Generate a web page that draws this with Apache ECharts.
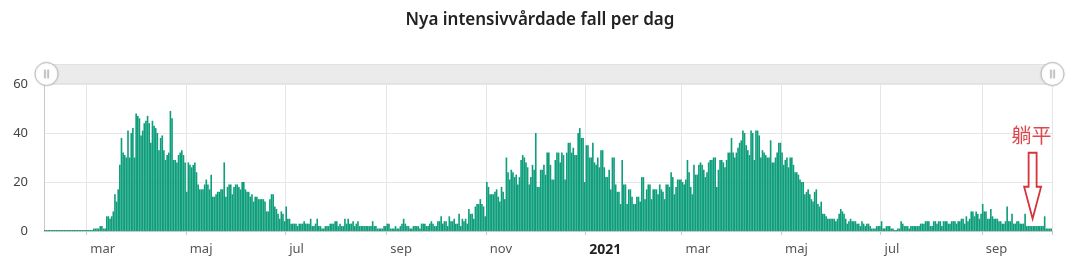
<!DOCTYPE html>
<html>
<head>
<meta charset="utf-8">
<script src="https://cdn.jsdelivr.net/npm/echarts@6/dist/echarts.min.js"></script>
<style>
html,body{margin:0;padding:0;background:#fff;}
#chart{width:1080px;height:269px;}
</style>
</head>
<body>
<div id="chart"></div>
<script>
// Daily new ICU cases, one array per month (first array starts 2020-02-04)
const startDate = '2020-02-04';
const feb20 = [0,0,0,0,0,0,0,0,0,0,0,0,0,0,0,0,0,0,0,0,0,0,0,0,0,0];
const mar20 = [0,0,0,0,1,1,1,1,2,2,1,1,6,6,5,6,8,15,12,17,27,38,32,31,30,41,30,40,42,30,48];
const apr20 = [47,46,39,41,44,45,47,44,36,45,43,42,40,33,38,39,33,29,31,32,49,46,29,29,28,31,32,33,31,28];
const may20 = [16,28,27,26,27,28,24,19,17,17,17,19,21,19,17,23,14,14,15,16,16,17,17,28,14,18,19,19,15,18,19];
const jun20 = [19,18,17,20,20,17,16,16,14,15,12,14,14,13,13,13,13,12,8,8,13,15,15,10,9,7,5,8,7,4];
const jul20 = [10,5,5,3,3,3,3,2,3,3,3,4,3,3,3,5,2,2,3,5,2,2,1,1,2,2,2,3,3,3,4];
const aug20 = [4,2,3,2,2,5,3,5,3,3,4,2,3,4,2,2,2,2,2,2,2,2,4,2,2,1,1,1,1,2,2];
const sep20 = [3,3,1,1,1,2,1,1,2,3,5,3,2,2,1,1,2,2,2,2,1,3,3,3,2,2,3,4,3,2];
const oct20 = [2,4,4,6,3,4,4,2,6,4,4,5,3,3,7,2,5,4,5,3,9,7,7,5,10,11,11,13,11,10,6];
const nov20 = [20,18,15,15,15,16,17,14,12,18,16,13,30,24,21,25,24,22,23,19,22,29,31,30,28,26,19,22,27,25];
const dec20 = [40,18,18,25,25,27,23,32,32,27,21,21,29,32,32,28,32,31,21,32,36,36,32,34,31,31,40,42,38,38,20];
const jan21 = [35,35,30,30,36,28,27,30,26,33,33,26,22,22,25,17,30,30,19,16,16,11,29,19,19,11,17,17,14,11,11];
const feb21 = [14,14,12,22,22,13,17,19,19,13,17,17,17,15,19,17,16,13,19,19,18,24,22,15,18,21,21,21];
const mar21 = [20,19,21,29,24,18,15,27,23,23,27,28,27,25,22,24,28,29,29,30,30,18,25,29,29,28,26,29,32,32,38];
const apr21 = [32,30,32,34,36,37,41,40,35,33,31,41,40,29,41,41,39,30,33,32,31,30,30,37,28,28,30,32,36,36];
const may21 = [32,27,29,30,26,30,30,27,24,24,23,21,20,20,15,16,17,15,13,12,16,17,11,10,12,7,7,6,5,5,5];
const jun21 = [5,5,4,5,7,9,8,7,5,3,4,5,4,4,4,3,3,2,4,3,2,3,3,2,1,1,1,2,2,2];
const jul21 = [4,1,1,2,2,2,1,1,0,0,1,1,4,3,2,2,2,1,2,2,2,2,2,2,3,3,3,4,4,4,2];
const aug21 = [2,4,4,3,4,4,2,4,4,4,3,3,4,4,4,3,4,4,5,5,3,6,4,5,8,8,6,8,7,5,7];
const sep21 = [11,8,8,5,5,9,6,5,5,5,4,4,3,3,4,10,4,4,7,3,3,4,4,3,3,3,7,2,2,2];
const oct21 = [2,2,2,2,2,2,2,2,6,1,1,1,1];

const monthNames = ['jan','feb','mar','apr','maj','jun','jul','aug','sep','okt','nov','dec'];
const yTicks = [0, 20, 40, 60];
const annotationText = '躺平';
const annotationDate = '2021-10-01';
const annotationValue = 5;

const values = [].concat(feb20, mar20, apr20, may20, jun20, jul20, aug20, sep20, oct20, nov20, dec20,
  jan21, feb21, mar21, apr21, may21, jun21, jul21, aug21, sep21, oct21);

// build date categories
const categories = [];
{
  const d = new Date(startDate + 'T00:00:00Z');
  for (let i = 0; i < values.length; i++) {
    const y = d.getUTCFullYear(), m = d.getUTCMonth() + 1, day = d.getUTCDate();
    categories.push(y + '-' + String(m).padStart(2, '0') + '-' + String(day).padStart(2, '0'));
    d.setUTCDate(d.getUTCDate() + 1);
  }
}
function isMarker(val) {
  const p = val.split('-');
  return p[2] === '01' && (parseInt(p[1], 10) % 2 === 1);
}

const chart = echarts.init(document.getElementById('chart'), null, {renderer: 'canvas'});
const handlePath = 'path://M50,0A50,50,0,1,1,49.9,0Z M42,32L42,68L44,68L44,32Z M56,32L56,68L58,68L58,32Z';

chart.setOption({
  animation: false,
  title: {
    text: 'Nya intensivvårdade fall per dag',
    left: 'center',
    top: 7,
    textStyle: {fontFamily: 'Noto Sans', fontSize: 17, fontWeight: 600, color: '#222'}
  },
  grid: {left: 44, right: 28, top: 84, bottom: 38, containLabel: false},
  dataZoom: [{
    type: 'slider',
    xAxisIndex: 0,
    start: 0, end: 100,
    left: 44, right: 28, top: 64, height: 20,
    showDetail: false,
    showDataShadow: false,
    brushSelect: false,
    moveHandleSize: 0,
    moveHandleStyle: {opacity: 0},
    backgroundColor: '#ebebeb',
    fillerColor: 'rgba(0,0,0,0)',
    borderColor: '#e2e2e2',
    borderRadius: 0,
    handleIcon: handlePath,
    handleSize: '115%',
    handleStyle: {color: '#fff', borderColor: '#c0c0c0', borderWidth: 1, shadowBlur: 2, shadowColor: 'rgba(0,0,0,0.15)'},
    emphasis: {handleStyle: {color: '#fff', borderColor: '#c0c0c0'}}
  }],
  xAxis: {
    type: 'category',
    data: categories,
    boundaryGap: true,
    axisLine: {show: true, lineStyle: {color: '#c8c8c8'}},
    axisTick: {show: true, length: 4, interval: (i, v) => isMarker(v), lineStyle: {color: '#c8c8c8'}},
    splitLine: {show: true, interval: (i, v) => isMarker(v), lineStyle: {color: '#e6e6e6'}},
    axisLabel: {
      interval: (i, v) => isMarker(v),
      align: 'left',
      padding: [0, 0, 0, 3],
      margin: 12,
      fontFamily: 'Noto Sans',
      fontSize: 13,
      color: '#555',
      formatter: (v) => {
        const p = v.split('-');
        const m = parseInt(p[1], 10);
        if (m === 1) return '{y|' + p[0] + '}';
        return monthNames[m - 1];
      },
      rich: {y: {fontFamily: 'Noto Sans', fontSize: 14, fontWeight: 'bold', color: '#222'}}
    }
  },
  yAxis: {
    type: 'value',
    min: yTicks[0], max: yTicks[yTicks.length - 1], interval: 20,
    axisLine: {show: true, lineStyle: {color: '#c8c8c8'}},
    axisTick: {show: false},
    splitLine: {show: true, lineStyle: {color: '#e6e6e6'}},
    axisLabel: {margin: 16, fontFamily: 'Noto Sans', fontSize: 13, color: '#444'}
  },
  series: [{
    type: 'bar',
    data: values,
    barCategoryGap: '0%',
    barMinHeight: 1,
    itemStyle: {color: '#0e9e7b'},
    z: 3
  }]
});

// annotation anchored to data coordinates
const tip = chart.convertToPixel({xAxisIndex: 0, yAxisIndex: 0}, [annotationDate, annotationValue]);
const tx = tip[0] + 1, ty = tip[1];
chart.setOption({
  graphic: [
    {
      type: 'polygon',
      shape: {points: [[tx - 4, ty - 66], [tx + 4, ty - 66], [tx + 4, ty - 32], [tx + 8.5, ty - 32],
                       [tx, ty], [tx - 8.5, ty - 32], [tx - 4, ty - 32]]},
      style: {fill: 'none', stroke: '#d6343c', lineWidth: 1.8},
      z: 100
    },
    {
      type: 'text',
      x: tx - 1, y: ty - 83,
      style: {text: annotationText, fill: '#e0474c', font: '20px "Noto Sans CJK SC"', align: 'center', verticalAlign: 'middle'},
      z: 100
    }
  ]
});
</script>
</body>
</html>
